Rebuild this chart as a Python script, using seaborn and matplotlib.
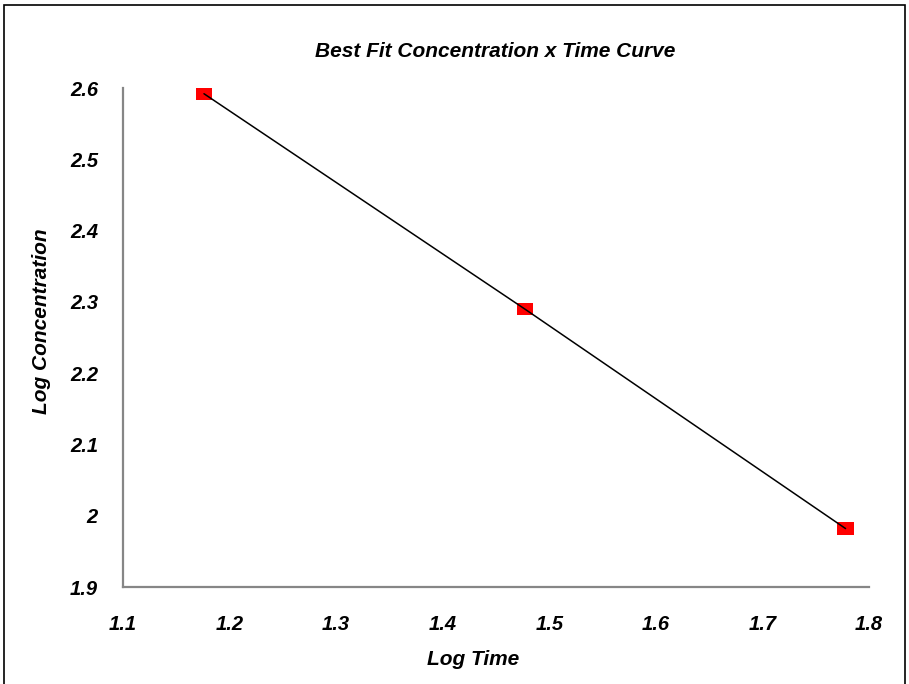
import matplotlib
matplotlib.use("Agg")
import matplotlib.pyplot as plt
import seaborn as sns
import pandas as pd
from matplotlib.patches import Rectangle

# data
log_time = [1.176, 1.477, 1.778]
log_conc = [2.592, 2.290, 1.982]
x_ticks = [1.1, 1.2, 1.3, 1.4, 1.5, 1.6, 1.7, 1.8]
y_ticks = [1.9, 2.0, 2.1, 2.2, 2.3, 2.4, 2.5, 2.6]
y_tick_labels = ['1.9', '2', '2.1', '2.2', '2.3', '2.4', '2.5', '2.6']

sns.set_style('white')
plt.rcParams['font.family'] = ['Liberation Sans', 'DejaVu Sans']
plt.rcParams['text.color'] = 'black'
plt.rcParams['axes.labelcolor'] = 'black'
plt.rcParams['xtick.color'] = 'black'
plt.rcParams['ytick.color'] = 'black'

df = pd.DataFrame({'Log Time': log_time, 'Log Concentration': log_conc})

fig = plt.figure(figsize=(9.09, 6.84), dpi=100)
ax = fig.add_axes([0.1353, 0.1418, 0.8207, 0.7295])

# red squares under the fitted line
rect = [(-1.3, -1), (1.3, -1), (1.3, 1), (-1.3, 1), (-1.3, -1)]
sns.scatterplot(data=df, x='Log Time', y='Log Concentration', marker=rect,
                s=135, color='#ff0000', edgecolor='none', ax=ax, zorder=2)
sns.lineplot(data=df, x='Log Time', y='Log Concentration', color='black',
             linewidth=1.1, ax=ax, zorder=3)

ax.set_xlim(1.1, 1.8)
ax.set_ylim(1.9, 2.6)
ax.set_xticks(x_ticks)
ax.set_xticklabels([f'{v:.1f}' for v in x_ticks])
ax.set_yticks(y_ticks)
ax.set_yticklabels(y_tick_labels)

for lbl in ax.get_xticklabels() + ax.get_yticklabels():
    lbl.set_fontsize(14.5)
    lbl.set_fontweight('bold')
    lbl.set_fontstyle('italic')
ax.tick_params(axis='x', length=0, pad=20)
ax.tick_params(axis='y', length=0, pad=18)

for side in ['top', 'right']:
    ax.spines[side].set_visible(False)
for side in ['left', 'bottom']:
    ax.spines[side].set_color('#868686')
    ax.spines[side].set_linewidth(1.6)

ax.set_xlabel('Log Time', fontsize=15, fontweight='bold', fontstyle='italic')
ax.set_ylabel('Log Concentration', fontsize=15, fontweight='bold', fontstyle='italic')
ax.xaxis.set_label_coords(0.47, -0.146)
ax.xaxis.label.set_va('center')
ax.yaxis.set_label_coords(-0.109, 0.533)
ax.yaxis.label.set_va('center')
fig.text(0.545, 0.925, 'Best Fit Concentration x Time Curve', ha='center', va='center',
         fontsize=15, fontweight='bold', fontstyle='italic')

# chart border
fig.patches.append(Rectangle((0.004, -0.01), 0.992, 1.003, transform=fig.transFigure,
                             fill=False, edgecolor='black', linewidth=1.2))

fig.savefig('out.png', dpi=100)
